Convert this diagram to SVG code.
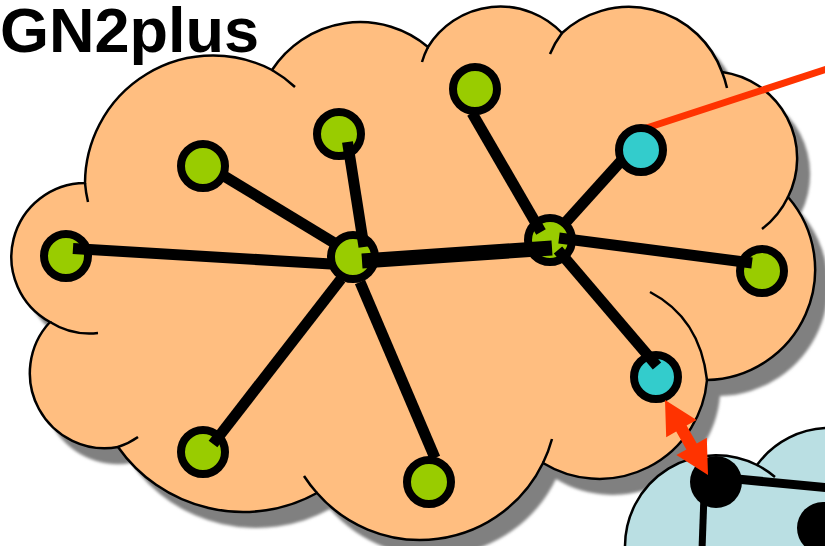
<svg xmlns="http://www.w3.org/2000/svg" width="825" height="546" viewBox="0 0 825 546">
<style>
.cloud{fill:#FFBE80;stroke:#000;stroke-width:2.5}
.tail{fill:none;stroke:#000;stroke-width:2.5}
.bcloud{fill:#BADFE3;stroke:#000;stroke-width:2.5}
.g{fill:#99CC00;stroke:#000;stroke-width:8}
.c{fill:#33CCCC;stroke:#000;stroke-width:8}
.k{fill:#000}
.e{stroke:#000;stroke-width:11;fill:none}
.title{font-family:"Liberation Sans",Arial,sans-serif;font-weight:bold;font-size:63px;fill:#000}
</style>
<defs>
<filter id="blur" x="-10%" y="-10%" width="120%" height="120%"><feGaussianBlur stdDeviation="1.5"/></filter>
<path id="cloudPath" d="M 50,322 A 74 74 0 0 1 85,183 A 128 128 0 0 1 272,70 A 105 105 0 0 1 428,47 A 85 85 0 0 1 562,33 A 99 99 0 0 1 722,72 A 87 87 0 0 1 788,197 A 110.5 110.5 0 0 1 707,380 A 108 108 0 0 1 543,463 A 136.6 136.6 0 0 1 317,493 A 153 153 0 0 1 118,447 A 75 75 0 0 1 50,322 Z"/>
</defs>
<g id="cloud-shadow" filter="url(#blur)"><use href="#cloudPath" transform="translate(13,16)" fill="#808080"/></g>
<g id="cloud-main">
<use href="#cloudPath" class="cloud"/>
<path class="tail" d="M 50,322 A 74 74 0 0 0 98,333"/>
<path class="tail" d="M 85,183 A 128 128 0 0 0 88,202"/>
<path class="tail" d="M 272,70 A 128 128 0 0 1 295,87"/>
<path class="tail" d="M 428,47 A 85 85 0 0 0 422,62"/>
<path class="tail" d="M 562,33 A 99 99 0 0 0 550,54"/>
<path class="tail" d="M 722,72 A 99 99 0 0 1 727,88"/>
<path class="tail" d="M 788,197 A 87 87 0 0 1 762,229"/>
<path class="tail" d="M 707,380 Q 700,318 650,292"/>
<path class="tail" d="M 543,463 A 136.6 136.6 0 0 0 552,439"/>
<path class="tail" d="M 317,493 A 136.6 136.6 0 0 1 304,476"/>
<path class="tail" d="M 118,447 A 75 75 0 0 0 138,437"/>
</g>
<g id="cloud-blue">
<path class="bcloud" d="M 625,560 L 625,546 A 91 91 0 0 1 757,465 A 90 90 0 0 1 830,428 L 830,560 Z"/>
<path class="tail" d="M 757,465 A 91 91 0 0 1 775,477"/>
</g>
<text id="title" class="title" x="0" y="52">GN2plus</text>
<g id="external-links">
<line x1="645" y1="128.5" x2="830" y2="68" stroke="#FF3300" stroke-width="7"/>
<line x1="716" y1="477" x2="830" y2="488" stroke="#000" stroke-width="9"/>
<line x1="704" y1="495" x2="702" y2="550" stroke="#000" stroke-width="7"/>
</g>
<g id="n1"><circle class="g" cx="66" cy="256" r="22"/></g>
<g id="n2"><circle class="g" cx="203" cy="166" r="22"/></g>
<g id="n3"><circle class="g" cx="339" cy="134" r="22"/></g>
<g id="n4"><circle class="g" cx="475" cy="89" r="22"/></g>
<g id="n5"><circle class="c" cx="641" cy="150" r="22"/></g>
<g id="n6"><circle class="g" cx="762" cy="271" r="22"/></g>
<g id="n7"><circle class="c" cx="656" cy="377" r="22"/></g>
<g id="n8"><circle class="g" cx="429" cy="482" r="22"/></g>
<g id="n9"><circle class="g" cx="203" cy="452" r="22"/></g>
<g id="hubA"><circle class="g" cx="353" cy="257" r="22"/></g>
<g id="hubB"><circle class="g" cx="550" cy="240" r="22"/></g>
<g id="b1"><circle class="k" cx="716" cy="482" r="26"/></g>
<g id="b2"><circle class="k" cx="823" cy="528" r="26"/></g>
<g id="connectors">
<line class="e" x1="73" y1="248.5" x2="331" y2="264"/>
<line class="e" x1="224" y1="176" x2="336" y2="244"/>
<line class="e" x1="347.5" y1="142" x2="364" y2="247"/>
<line class="e" x1="213" y1="444" x2="341" y2="279"/>
<line class="e" x1="435" y1="458" x2="360" y2="282"/>
<line class="e" x1="362" y1="261" x2="552" y2="248" style="stroke-width:15"/>
<line class="e" x1="472" y1="113" x2="541" y2="232"/>
<line class="e" x1="566" y1="222" x2="622" y2="160"/>
<line class="e" x1="559" y1="238" x2="752" y2="263"/>
<line class="e" x1="558" y1="250" x2="657" y2="366"/>
<polygon fill="#FF3300" points="665,400 696.6,419.9 686.6,425.6 696.8,443.4 706.8,437.7 708,475 676.4,455.1 686.4,449.4 676.2,431.6 666.2,437.3"/>
</g>
</svg>
